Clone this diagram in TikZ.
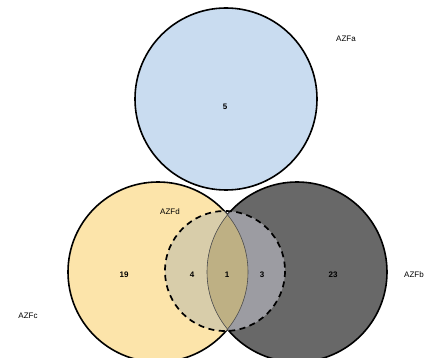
\documentclass[tikz,border=0pt]{standalone}
\usepackage{fontspec}
\setmainfont{Liberation Sans}
\definecolor{blueF}{RGB}{201,220,240}
\definecolor{yelF}{RGB}{252,228,170}
\definecolor{darkF}{RGB}{104,104,104}
\definecolor{dyF}{RGB}{216,205,170}
\definecolor{ddF}{RGB}{156,156,162}
\definecolor{lensF}{RGB}{190,176,132}
\tikzset{
  outline/.style={draw=black, line width=1.6pt},
  dashout/.style={draw=black, line width=1.7pt, dash pattern=on 6pt off 4.5pt},
  lbl/.style={font=\fontsize{8}{9}\selectfont, inner sep=0pt},
  num/.style={font=\fontsize{8}{9}\selectfont\bfseries, inner sep=0pt}
}
\begin{document}
\begin{tikzpicture}[x=1pt,y=-1pt]
\useasboundingbox (0,0) rectangle (428,358);
\fill[white] (0,0) rectangle (428,358);
\coordinate (cA) at (226,99);
\coordinate (cC) at (158,272);
\coordinate (cB) at (297,272);
\coordinate (cD) at (225,271);
\begin{scope}
  \clip (0,0) rectangle (428,358);
  \fill[yelF] (cC) circle (90);
  \fill[darkF] (cB) circle (90);
  \begin{scope}
    \clip (cC) circle (90);
    \fill[lensF] (cB) circle (90);
  \end{scope}
  \draw[outline] (cC) circle (90);
  \draw[outline] (cB) circle (90);
  \begin{scope}
    \clip (cD) circle (60);
    \fill[dyF] (cC) circle (90);
    \fill[ddF] (cB) circle (90);
    \begin{scope}
      \clip (cC) circle (90);
      \fill[lensF] (cB) circle (90);
    \end{scope}
    \draw[black!70, line width=0.6pt] (cC) circle (90);
    \draw[black!70, line width=0.6pt] (cB) circle (90);
  \end{scope}
  \draw[dashout] (cD) circle (60);
  \fill[blueF] (cA) circle (91);
  \draw[outline] (cA) circle (91);
\end{scope}
\node[lbl] (la) at (346,39) {AZFa};
\node[lbl] (ld) at (170,212) {AZFd};
\node[lbl] (lc) at (28,316) {AZFc};
\node[lbl, anchor=west] (lb) at (404,275) {AZFb};
\node[num] (n5) at (225,107) {5};
\node[num] (n19) at (124,275) {19};
\node[num] (n4) at (192,275) {4};
\node[num] (n1) at (227,275) {1};
\node[num] (n3) at (262,275) {3};
\node[num] (n23) at (333,275) {23};
\end{tikzpicture}
\end{document}
